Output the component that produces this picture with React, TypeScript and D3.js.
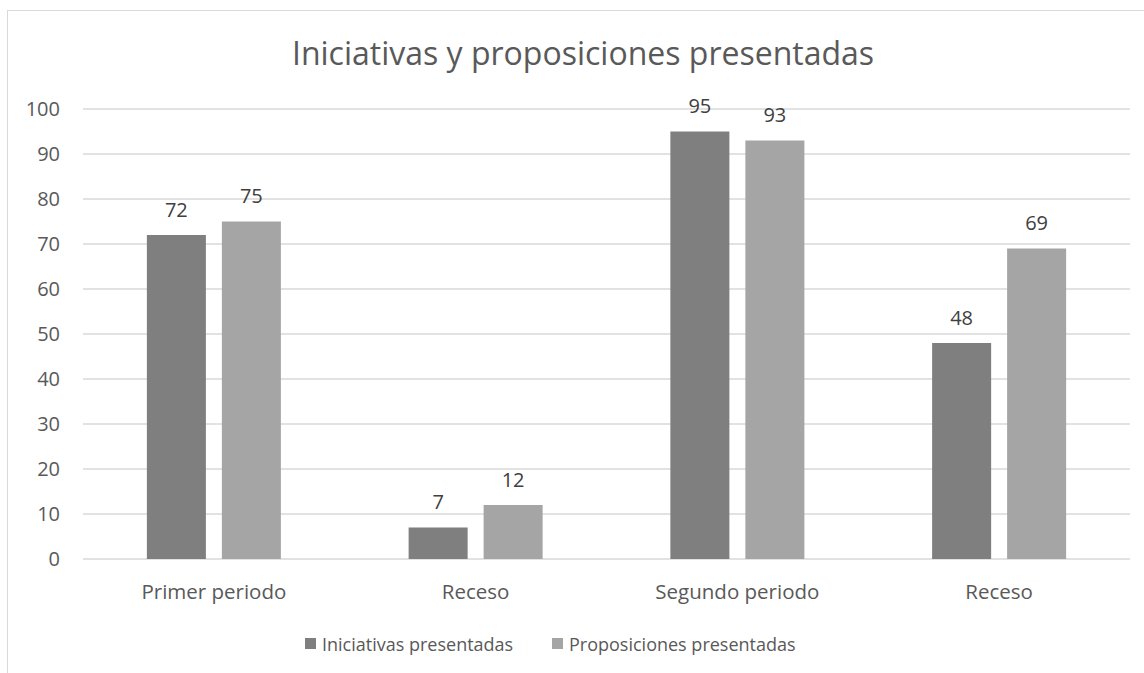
import React, { useRef, useEffect } from "react";
import * as d3 from "d3";

const categories = ["Primer periodo", "Receso", "Segundo periodo", "Receso"];
const seriesNames = ["Iniciativas presentadas", "Proposiciones presentadas"];
const iniciativas = [72, 7, 95, 48];
const proposiciones = [75, 12, 93, 69];
const yTicks = [0, 10, 20, 30, 40, 50, 60, 70, 80, 90, 100];
const colors = ["#7f7f7f", "#a5a5a5"];

const W = 1144;
const H = 673;
const plot = { left: 83, right: 1130, top: 109, bottom: 559 };
const font = "'Open Sans', 'Noto Sans', sans-serif";
const textColor = "#595959";

const App = () => {
  const svgRef = useRef<SVGSVGElement>(null);

  useEffect(() => {
    const svg = d3.select(svgRef.current);
    svg.selectAll("*").remove();

    // Outer chart border
    svg.append("rect")
      .attr("x", 7.5)
      .attr("y", 10.5)
      .attr("width", W + 20)
      .attr("height", H + 20)
      .attr("fill", "white")
      .attr("stroke", "#d9d9d9")
      .attr("stroke-width", 1);

    const x0 = d3.scaleBand<number>()
      .domain(categories.map((_, i) => i))
      .range([plot.left, plot.right])
      .paddingInner(0.488)
      .paddingOuter(0.244);

    const x1 = d3.scaleBand<number>()
      .domain([0, 1])
      .range([0, x0.bandwidth()])
      .paddingInner(0.213);

    const y = d3.scaleLinear().domain([0, 100]).range([plot.bottom, plot.top]);

    // Gridlines
    svg.append("g")
      .selectAll("line")
      .data(yTicks)
      .enter()
      .append("line")
      .attr("x1", plot.left)
      .attr("x2", plot.right)
      .attr("y1", d => y(d))
      .attr("y2", d => y(d))
      .attr("stroke", "#d9d9d9")
      .attr("stroke-width", 1.3);

    // Y tick labels
    svg.append("g")
      .selectAll("text")
      .data(yTicks)
      .enter()
      .append("text")
      .attr("x", 60)
      .attr("y", d => y(d))
      .attr("dy", "0.36em")
      .attr("text-anchor", "end")
      .style("font-family", font)
      .style("font-size", "20px")
      .style("fill", textColor)
      .text(d => d);

    const series = [iniciativas, proposiciones];

    series.forEach((vals, s) => {
      const g = svg.append("g");
      g.selectAll("rect")
        .data(vals)
        .enter()
        .append("rect")
        .attr("x", (_, i) => (x0(i) as number) + (x1(s) as number))
        .attr("y", d => y(d))
        .attr("width", x1.bandwidth())
        .attr("height", d => y(0) - y(d))
        .attr("fill", colors[s]);

      g.selectAll("text")
        .data(vals)
        .enter()
        .append("text")
        .attr("x", (_, i) => (x0(i) as number) + (x1(s) as number) + x1.bandwidth() / 2)
        .attr("y", d => y(d) - 18.5)
        .attr("text-anchor", "middle")
        .style("font-family", font)
        .style("font-size", "20px")
        .style("fill", "#404040")
        .text(d => d);
    });

    // Category labels
    svg.append("g")
      .selectAll("text")
      .data(categories)
      .enter()
      .append("text")
      .attr("x", (_, i) => (x0(i) as number) + x0.bandwidth() / 2)
      .attr("y", 599)
      .attr("text-anchor", "middle")
      .style("font-family", font)
      .style("font-size", "20.5px")
      .style("fill", textColor)
      .text(d => d);

    // Title
    svg.append("text")
      .attr("x", 583)
      .attr("y", 65)
      .attr("text-anchor", "middle")
      .style("font-family", font)
      .style("font-size", "32px")
      .style("fill", textColor)
      .text("Iniciativas y proposiciones presentadas");

    // Legend
    const legendX = [305, 552];
    seriesNames.forEach((name, s) => {
      svg.append("rect")
        .attr("x", legendX[s])
        .attr("y", 638)
        .attr("width", 11)
        .attr("height", 11)
        .attr("fill", colors[s]);
      svg.append("text")
        .attr("x", legendX[s] + 17)
        .attr("y", 651)
        .style("font-family", font)
        .style("font-size", "18px")
        .style("fill", textColor)
        .text(name);
    });
  }, []);

  return (
    <svg
      ref={svgRef}
      width={W}
      height={H}
      style={{ position: "absolute", left: 0, top: 0, background: "white" }}
    />
  );
};

export default App;
